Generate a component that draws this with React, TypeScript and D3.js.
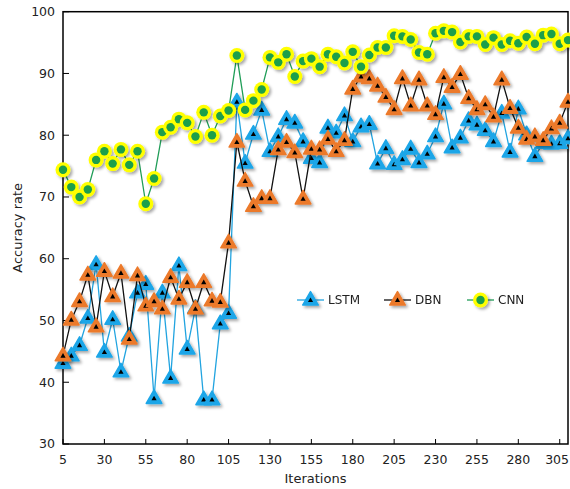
import { useEffect, useRef } from 'react';
import * as d3 from 'd3';

const W = 570;
const H = 489;
const [mt, mr, mb, ml] = [11.7, 2, 45, 63];

// iterations 5..310, one sample every 5 iterations
const iterations = [
  5, 10, 15, 20, 25, 30, 35, 40, 45, 50, 55, 60, 65, 70, 75, 80, 85, 90, 95, 100,
  105, 110, 115, 120, 125, 130, 135, 140, 145, 150, 155, 160, 165, 170, 175, 180, 185, 190, 195, 200,
  205, 210, 215, 220, 225, 230, 235, 240, 245, 250, 255, 260, 265, 270, 275, 280, 285, 290, 295, 300,
  305, 310,
];

const lstm = [
  43.1, 44.3, 46.0, 50.4, 59.1, 44.9, 50.2, 41.7, 47.5, 54.5, 55.9, 37.4, 54.5, 40.7, 58.9, 45.4, 52.0, 37.2, 37.2, 49.5,
  51.2, 85.4, 75.5, 80.2, 84.1, 77.4, 79.8, 82.6, 82.0, 79.0, 76.3, 75.6, 81.2, 80.4, 83.2, 79.0, 81.4, 81.8, 75.4, 77.9,
  75.3, 76.1, 77.8, 75.6, 77.0, 79.8, 85.1, 78.0, 79.6, 82.4, 81.7, 80.8, 79.0, 83.6, 77.3, 84.3, 80.1, 76.6, 78.7, 78.6,
  78.7, 79.5,
];

const dbn = [
  44.3, 50.1, 53.1, 57.4, 49.0, 58.0, 53.9, 57.7, 47.0, 57.3, 52.4, 53.1, 51.9, 57.0, 53.5, 56.2, 51.9, 56.2, 53.2, 53.0,
  62.6, 78.9, 72.6, 68.5, 69.8, 69.8, 77.7, 78.9, 77.2, 69.7, 77.8, 77.7, 79.4, 77.4, 79.2, 87.5, 89.5, 89.2, 88.0, 86.2,
  84.2, 89.2, 84.8, 89.0, 84.8, 83.4, 89.4, 87.8, 89.9, 86.0, 84.2, 85.0, 83.0, 89.0, 84.4, 81.2, 79.4, 79.8, 79.2, 81.1,
  82.0, 85.4,
];

const cnn = [
  74.4, 71.6, 70.0, 71.2, 76.0, 77.4, 75.4, 77.7, 75.2, 77.4, 68.9, 73.0, 80.5, 81.3, 82.6, 82.0, 79.8, 83.7, 80.0, 83.1,
  84.0, 92.9, 84.1, 85.6, 87.4, 92.6, 91.8, 93.1, 89.5, 92.0, 92.4, 91.1, 93.1, 92.7, 91.7, 93.5, 91.1, 93.0, 94.2, 94.2,
  96.1, 96.0, 95.5, 93.4, 93.1, 96.5, 96.9, 96.7, 95.1, 96.0, 96.0, 94.7, 95.8, 94.7, 95.3, 94.9, 95.9, 94.8, 96.2, 96.4,
  94.8, 95.4,
];

const xTicks = [5, 30, 55, 80, 105, 130, 155, 180, 205, 230, 255, 280, 305];
const yTicks = [30, 40, 50, 60, 70, 80, 90, 100];

const FONT = 'DejaVu Sans, Verdana, sans-serif';

const triOuter = 'M0,-8.4L7.8,5.1L-7.8,5.1Z';
const triInner = 'M0,-2.6L2.6,2L-2.6,2Z';

export default function App() {
  const ref = useRef<SVGSVGElement | null>(null);

  useEffect(() => {
    document.body.style.margin = '0';
    const svg = d3.select(ref.current);
    svg.selectAll('*').remove();

    const x = d3.scaleLinear().domain([5, 310]).range([ml, W - mr]);
    const y = d3.scaleLinear().domain([30, 100]).range([H - mb, mt]);

    const defs = svg.append('defs');
    const f = defs.append('filter').attr('id', 'shadow').attr('x', '-50%').attr('y', '-50%').attr('width', '200%').attr('height', '200%');
    f.append('feDropShadow').attr('dx', 2).attr('dy', 2).attr('stdDeviation', 1.4).attr('flood-color', '#000').attr('flood-opacity', 0.35);

    svg.append('rect').attr('width', W).attr('height', H).attr('fill', '#fff');

    // ticks (inside)
    const g = svg.append('g');
    xTicks.forEach((t, i) => {
      const last = i === xTicks.length - 1;
      g.append('line').attr('x1', x(t)).attr('x2', x(t)).attr('y1', y(30)).attr('y2', y(30) - 5).attr('stroke', '#000').attr('stroke-width', 1);
      g.append('text').attr('x', last ? W - 1 : x(t)).attr('y', y(30) + 20).attr('text-anchor', last ? 'end' : 'middle')
        .attr('font-family', FONT).attr('font-size', 12.5).attr('fill', '#222').text(t);
    });
    yTicks.forEach((t) => {
      g.append('line').attr('x1', x(5)).attr('x2', x(5) + 6).attr('y1', y(t)).attr('y2', y(t)).attr('stroke', '#000').attr('stroke-width', 1);
      g.append('text').attr('x', ml - 8).attr('y', y(t)).attr('dy', '0.35em').attr('text-anchor', 'end')
        .attr('font-family', FONT).attr('font-size', 12.5).attr('fill', '#222').text(t);
    });

    // frame
    svg.append('rect').attr('x', ml).attr('y', mt).attr('width', W - mr - ml).attr('height', H - mb - mt)
      .attr('fill', 'none').attr('stroke', '#000').attr('stroke-width', 1.5);

    svg.append('text').attr('x', (ml + W - mr) / 2).attr('y', H - 6).attr('text-anchor', 'middle')
      .attr('font-family', FONT).attr('font-size', 13).attr('fill', '#222').text('Iterations');
    svg.append('text').attr('transform', `translate(22,${(mt + H - mb) / 2}) rotate(-90)`).attr('text-anchor', 'middle')
      .attr('font-family', FONT).attr('font-size', 13).attr('fill', '#222').text('Accuracy rate');

    const line = d3.line<[number, number]>().x((d) => x(d[0])).y((d) => y(d[1]));

    const series = [
      { name: 'LSTM', vals: lstm, lineColor: '#22a4e0', fill: '#1ba6e8', kind: 'tri' },
      { name: 'DBN', vals: dbn, lineColor: '#111', fill: '#ec7a2c', kind: 'tri' },
      { name: 'CNN', vals: cnn, lineColor: '#1f9d57', fill: '#ffff00', kind: 'circ' },
    ];

    const drawMarker = (sel: d3.Selection<SVGGElement, unknown, null, undefined>, s: typeof series[number]) => {
      if (s.kind === 'tri') {
        sel.append('path').attr('d', triOuter).attr('fill', s.fill).attr('stroke', s.fill).attr('stroke-width', 1.5).attr('stroke-linejoin', 'round');
        sel.append('path').attr('d', triInner).attr('fill', '#000');
      } else {
        sel.append('circle').attr('r', 7.5).attr('fill', s.fill);
        sel.append('circle').attr('r', 4.2).attr('fill', '#1a9f4b');
      }
    };

    series.forEach((s) => {
      const pts = iterations.map((it, i) => [it, s.vals[i]] as [number, number]);
      svg.append('path').attr('d', line(pts)).attr('fill', 'none').attr('stroke', s.lineColor).attr('stroke-width', 1.3);
      const mg = svg.append('g').attr('filter', 'url(#shadow)');
      pts.forEach((p) => {
        const m = mg.append('g').attr('transform', `translate(${x(p[0])},${y(p[1])})`);
        drawMarker(m as any, s);
      });
    });

    // legend
    const legX = [297, 384, 467];
    series.forEach((s, i) => {
      const lg = svg.append('g').attr('transform', `translate(${legX[i]},300)`);
      lg.append('line').attr('x1', 0).attr('x2', 27).attr('stroke', s.lineColor).attr('stroke-width', 1.3);
      const m = lg.append('g').attr('transform', 'translate(13.5,0)').attr('filter', 'url(#shadow)');
      drawMarker(m as any, s);
      lg.append('text').attr('x', 31).attr('dy', '0.35em').attr('font-family', FONT).attr('font-size', 12)
        .attr('fill', '#222').text(s.name);
    });
  }, []);

  return <svg ref={ref} width={W} height={H} style={{ display: 'block' }} />;
}
